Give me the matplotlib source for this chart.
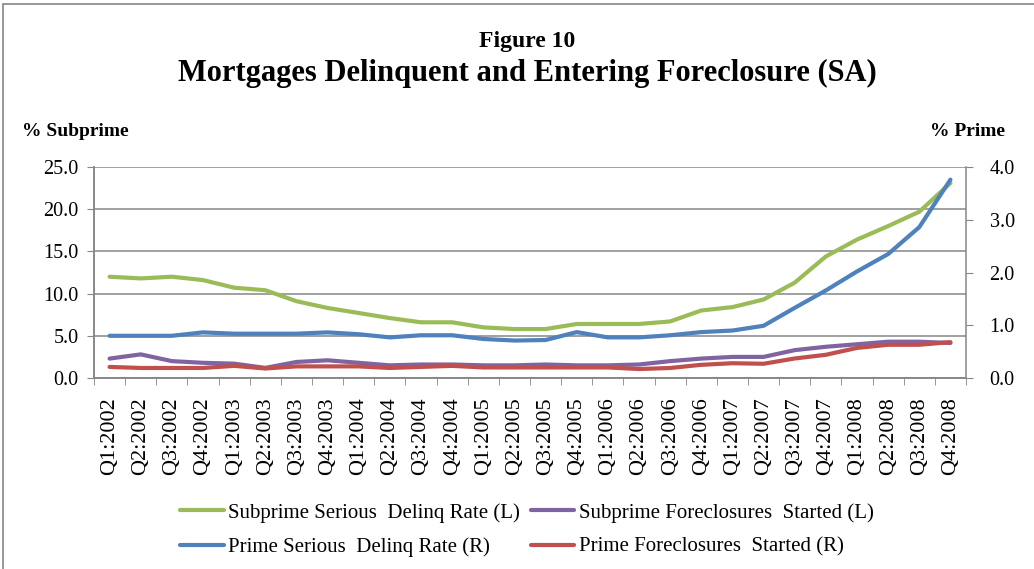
import matplotlib.pyplot as plt
from matplotlib.patches import Rectangle
from matplotlib.ticker import MultipleLocator, FixedLocator

quarters = ['Q1:2002', 'Q2:2002', 'Q3:2002', 'Q4:2002',
            'Q1:2003', 'Q2:2003', 'Q3:2003', 'Q4:2003',
            'Q1:2004', 'Q2:2004', 'Q3:2004', 'Q4:2004',
            'Q1:2005', 'Q2:2005', 'Q3:2005', 'Q4:2005',
            'Q1:2006', 'Q2:2006', 'Q3:2006', 'Q4:2006',
            'Q1:2007', 'Q2:2007', 'Q3:2007', 'Q4:2007',
            'Q1:2008', 'Q2:2008', 'Q3:2008', 'Q4:2008']

# left axis (% subprime)
subprime_delinq = [12.0, 11.8, 12.0, 11.6, 10.7, 10.4, 9.1, 8.3, 7.7, 7.1, 6.6, 6.6, 6.0, 5.8,
                   5.8, 6.4, 6.4, 6.4, 6.7, 8.0, 8.4, 9.3, 11.3, 14.4, 16.4, 18.0, 19.7, 23.1]
subprime_fc = [2.3, 2.8, 2.0, 1.8, 1.7, 1.2, 1.9, 2.1, 1.8, 1.5, 1.6, 1.6, 1.5, 1.5,
               1.6, 1.5, 1.5, 1.6, 2.0, 2.3, 2.5, 2.5, 3.3, 3.7, 4.0, 4.3, 4.3, 4.15]

# right axis (% prime)
prime_delinq = [0.80, 0.80, 0.80, 0.865, 0.84, 0.84, 0.84, 0.865, 0.83, 0.77, 0.81, 0.81, 0.74, 0.71,
                0.72, 0.87, 0.77, 0.77, 0.81, 0.87, 0.90, 0.99, 1.33, 1.66, 2.02, 2.35, 2.86, 3.76]
prime_fc = [0.21, 0.19, 0.19, 0.19, 0.23, 0.18, 0.22, 0.22, 0.22, 0.19, 0.21, 0.23, 0.20, 0.20,
            0.20, 0.20, 0.20, 0.17, 0.19, 0.25, 0.28, 0.27, 0.37, 0.44, 0.57, 0.63, 0.63, 0.68]

GREEN, PURPLE, BLUE, RED = '#9BBB59', '#8064A2', '#4F81BD', '#C0504D'
GREY = '#868686'

plt.rcParams['font.family'] = 'Liberation Serif'

fig = plt.figure(figsize=(10.34, 5.69), dpi=100)
ax = fig.add_axes([94/1034, 1-378/569, (966-94)/1034, (378-167)/569])
ax2 = ax.twinx()

x = list(range(len(quarters)))
lw = 3.0
l1, = ax.plot(x, subprime_delinq, color=GREEN, lw=lw, solid_capstyle='round',
              label='Subprime Serious  Delinq Rate (L)', zorder=3)
l2, = ax.plot(x, subprime_fc, color=PURPLE, lw=lw, solid_capstyle='round',
              label='Subprime Foreclosures  Started (L)', zorder=3)
l3, = ax2.plot(x, prime_delinq, color=BLUE, lw=lw, solid_capstyle='round',
               label='Prime Serious  Delinq Rate (R)', zorder=3)
l4, = ax2.plot(x, prime_fc, color=RED, lw=lw, solid_capstyle='round',
               label='Prime Foreclosures  Started (R)', zorder=3)

ax.set_xlim(-0.5, len(quarters) - 0.5)
ax.set_ylim(0, 25)
ax2.set_ylim(0, 4)
ax.yaxis.set_major_locator(MultipleLocator(5))
ax2.yaxis.set_major_locator(MultipleLocator(1))
ax.yaxis.set_major_formatter('{x:.1f}')
ax2.yaxis.set_major_formatter('{x:.1f}')

ax.set_xticks(x)
ax.set_xticklabels(quarters, rotation=90, fontsize=16)
ax.xaxis.set_minor_locator(FixedLocator([i - 0.5 for i in range(len(quarters) + 1)]))
ax.tick_params(axis='x', which='major', length=0, pad=14)
ax.tick_params(axis='x', which='minor', length=5, color=GREY, direction='out')
ax.tick_params(axis='y', length=5, color=GREY, labelsize=14.5, pad=6)
ax2.tick_params(axis='y', length=5, color=GREY, labelsize=14.5, pad=12)

ax.grid(axis='y', color=GREY, lw=1.1)
ax.set_axisbelow(True)
for a in (ax, ax2):
    a.spines['top'].set_visible(False)
    for s in ('left', 'right', 'bottom'):
        a.spines[s].set_color(GREY)
        a.spines[s].set_linewidth(1.1)
ax.spines['right'].set_visible(False)

fig.text(0.51, 1-41/569, 'Figure 10', ha='center', va='center', fontsize=17, fontweight='bold')
fig.text(0.51, 1-73/569, 'Mortgages Delinquent and Entering Foreclosure (SA)',
         ha='center', va='center', fontsize=22, fontweight='bold')
fig.text(22/1034, 1-131/569, '% Subprime', ha='left', va='center', fontsize=14, fontweight='bold')
fig.text(1005/1034, 1-131/569, '% Prime', ha='right', va='center', fontsize=14, fontweight='bold')

fig.legend(handles=[l1, l3, l2, l4], ncol=2, loc='center',
           bbox_to_anchor=(527/1034, 1-530/569), frameon=False, fontsize=15,
           handlelength=2.1, handletextpad=0.2, columnspacing=0.5, labelspacing=0.7)

fig.patches.append(Rectangle((3/1034, -0.02), 1.1, 1-4/569+0.02, transform=fig.transFigure,
                             fill=False, edgecolor=GREY, lw=1.2))

fig.savefig('out.png', dpi=100)
